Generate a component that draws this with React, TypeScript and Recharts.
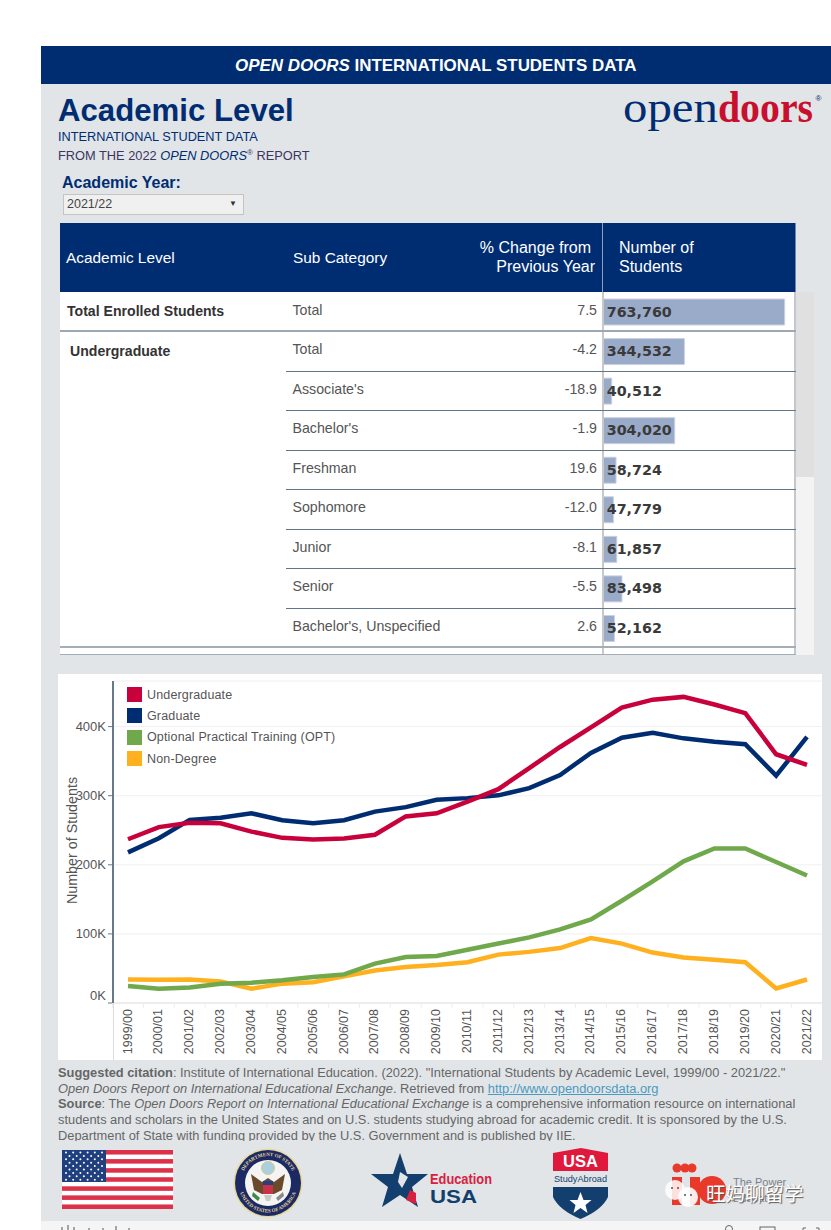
import React from 'react';
import { LineChart, Line, XAxis, YAxis, CartesianGrid, Legend, BarChart, Bar, LabelList } from 'recharts';

const years = ['1999/00', '2000/01', '2001/02', '2002/03', '2003/04', '2004/05', '2005/06', '2006/07', '2007/08', '2008/09', '2009/10', '2010/11', '2011/12', '2012/13', '2013/14', '2014/15', '2015/16', '2016/17', '2017/18', '2018/19', '2019/20', '2020/21', '2021/22'];
const undergraduate = [237000, 254500, 261000, 260000, 248000, 239000, 236500, 238000, 243500, 270000, 274500, 291500, 309500, 340000, 370500, 399000, 427500, 439000, 443000, 432000, 419500, 360000, 344500];
const graduate = [218000, 238500, 265000, 268000, 274500, 264500, 260000, 264500, 277000, 283500, 294000, 296500, 300500, 311000, 330000, 362000, 384000, 391000, 383000, 378000, 374500, 329000, 385000];
const opt = [24500, 20800, 22600, 28000, 29400, 32800, 37500, 41400, 57000, 66500, 68000, 77000, 86000, 95000, 106500, 121000, 148000, 176000, 205000, 223600, 223600, 204000, 184600];
const nonDegree = [34000, 33700, 34000, 31000, 20700, 28000, 30000, 38500, 47000, 52000, 55000, 59000, 70000, 74000, 79500, 94000, 86000, 73000, 66000, 62600, 59000, 21000, 34000];
const yTicks = [0, 100000, 200000, 300000, 400000];

const legendItems = [
  { name: 'Undergraduate', color: '#c8003c' },
  { name: 'Graduate', color: '#002d72' },
  { name: 'Optional Practical Training (OPT)', color: '#70a84c' },
  { name: 'Non-Degree', color: '#ffb01e' },
];

const subCategories = ['Total', "Associate's", "Bachelor's", 'Freshman', 'Sophomore', 'Junior', 'Senior', "Bachelor's, Unspecified"];
const percentChange = ['7.5', '-4.2', '-18.9', '-1.9', '19.6', '-12.0', '-8.1', '-5.5', '2.6'];
const studentCounts = [763760, 344532, 40512, 304020, 58724, 47779, 61857, 83498, 52162];

const lineData = years.map((year, i) => ({
  year,
  undergraduate: undergraduate[i],
  graduate: graduate[i],
  opt: opt[i],
  nonDegree: nonDegree[i],
}));
const barData = studentCounts.map((students, i) => ({ id: String(i), students }));
const rowNames = ['Total', ...subCategories];

const NAVY = '#002d72';
const SANS = '"Liberation Sans", Arial, sans-serif';

const T = ({ x, y, size, color = '#555', bold, italic, right, children, style }: any) => (
  <div
    style={{
      position: 'absolute',
      left: x,
      top: y,
      fontSize: size,
      color,
      fontWeight: bold ? 700 : 400,
      fontStyle: italic ? 'italic' : 'normal',
      whiteSpace: 'nowrap',
      lineHeight: 1.2,
      transform: right ? 'translate(-100%,-50%)' : 'translateY(-50%)',
      ...style,
    }}
  >
    {children}
  </div>
);

const Box = ({ x, y, w, h, bg }: any) => (
  <div style={{ position: 'absolute', left: x, top: y, width: w, height: h, background: bg }} />
);

const YearTick = ({ x, y, payload }: any) => (
  <g>
    <line x1={x - 15.4} x2={x - 15.4} y1={y - 8} y2={y - 3} stroke="#eeeeee" />
    <text
      x={x}
      y={y}
      transform={`rotate(-90 ${x} ${y - 2})`}
      dy={1.5}
      textAnchor="end"
      fontSize={12.5}
      fill="#555"
      fontFamily={SANS}
    >
      {payload.value}
    </text>
  </g>
);

const ValueTick = ({ x, y, payload }: any) => (
  <text x={x} y={payload.value === 0 ? y - 8 : y} dy={4.5} textAnchor="end" fontSize={13} fill="#555" fontFamily={SANS}>
    {payload.value / 1000}K
  </text>
);

const ChartLegend = () => (
  <div>
    {legendItems.map((item) => (
      <div key={item.name} style={{ height: 21.3, display: 'flex', alignItems: 'center' }}>
        <span style={{ width: 15, height: 15, background: item.color, marginRight: 5 }} />
        <span style={{ fontSize: 12.5, color: '#555', fontFamily: SANS, letterSpacing: 0.15 }}>{item.name}</span>
      </div>
    ))}
  </div>
);

const LevelChart = () => (
  <div style={{ position: 'absolute', left: 58, top: 674 }}>
    <LineChart width={764} height={386} data={lineData} margin={{ top: 7, right: 0, bottom: 0, left: 0 }}>
      <CartesianGrid vertical={false} stroke="#f0f0f0" />
      <XAxis
        dataKey="year"
        interval={0}
        height={57}
        padding={{ left: 15, right: 15 }}
        axisLine={{ stroke: '#e4e4e4' }}
        tickLine={false}
        tick={<YearTick />}
      />
      <YAxis
        width={55}
        domain={[0, 466000]}
        ticks={yTicks}
        allowDataOverflow
        axisLine={{ stroke: '#66788a', strokeWidth: 2 }}
        tickLine={{ stroke: '#66788a' }}
        tickSize={5}
        tickMargin={2}
        tick={<ValueTick />}
        label={{ value: 'Number of Students', angle: -90, position: 'center', dx: -13.5, dy: -1.5, fontSize: 14.3, fill: '#555', fontFamily: SANS }}
      />
      <Legend content={<ChartLegend />} layout="vertical" verticalAlign="middle" align="center" wrapperStyle={{ left: 69, top: 10, width: 260 }} />
      <Line dataKey="nonDegree" stroke="#ffb01e" strokeWidth={4.5} dot={false} isAnimationActive={false} legendType="none" />
      <Line dataKey="opt" stroke="#70a84c" strokeWidth={4.5} dot={false} isAnimationActive={false} legendType="none" />
      <Line dataKey="graduate" stroke="#002d72" strokeWidth={4.5} dot={false} isAnimationActive={false} legendType="none" />
      <Line dataKey="undergraduate" stroke="#c8003c" strokeWidth={4.5} dot={false} isAnimationActive={false} legendType="none" />
    </LineChart>
    {/* thin divider running down beside the year labels */}
    <div style={{ position: 'absolute', left: 55, top: 329, width: 1, height: 57, background: '#dddddd' }} />
  </div>
);

const CountLabel = ({ y, height, value }: any) => (
  <text x={4.7} y={y + height / 2} dy={4.5} fontSize={14.3} fontWeight={700} fill="#3a3a3a" fontFamily='"DejaVu Sans", sans-serif'>
    {value.toLocaleString('en-US')}
  </text>
);

const StudentBars = () => (
  <div style={{ position: 'absolute', left: 602, top: 292 }}>
    <BarChart width={194} height={356} layout="vertical" data={barData} margin={{ top: 0, right: 0, bottom: 0, left: 0 }}>
      <XAxis type="number" hide domain={[0, 811000]} />
      <YAxis type="category" dataKey="id" hide width={0} />
      <Bar dataKey="students" fill="#9aabc9" stroke="#c8d2e2" barSize={26} isAnimationActive={false}>
        <LabelList dataKey="students" content={<CountLabel />} />
      </Bar>
    </BarChart>
  </div>
);

const DataTable = () => {
  const rowLines = [370.5, 410, 449.5, 489, 529, 568, 608];
  const rowCenters = [311, 350, 390, 429, 469, 508, 548, 587, 627];
  return (
    <>
      <Box x={60} y={223} w={736} h={69} bg={NAVY} />
      <Box x={602} y={223} w={1} h={69} bg="#8fa0bd" />
      <Box x={795} y={223} w={1} h={69} bg="#6f86ad" />
      <T x={66} y={258} size={15.4} color="#fff">Academic Level</T>
      <T x={293} y={258} size={15.4} color="#fff">Sub Category</T>
      <T x={591} y={248} size={16} color="#fff" right>% Change from</T>
      <T x={595} y={267} size={16} color="#fff" right>Previous Year</T>
      <T x={619} y={248} size={16} color="#fff">Number of</T>
      <T x={619} y={267} size={16} color="#fff">Students</T>

      <Box x={60} y={292} w={736} h={363} bg="#fff" />
      <Box x={796} y={292} w={18} h={185} bg="#e0e0e0" />
      <Box x={796} y={477} w={18} h={178} bg="#f3f3f3" />
      <StudentBars />
      <Box x={602} y={292} w={2} h={363} bg="#c8c8c8" />
      <Box x={794} y={292} w={2} h={363} bg="#c4c8cc" />
      <Box x={60} y={330} w={736} h={2} bg="#9ea8b0" />
      {rowLines.map((y) => (
        <Box key={y} x={286} y={y} w={510} h={1} bg="#62768a" />
      ))}
      <Box x={60} y={646} w={736} h={2} bg="#a4aeb6" />
      <Box x={60} y={654} w={736} h={1} bg="#a4aeb6" />

      <T x={67} y={310.5} size={14.1} color="#333" bold>Total Enrolled Students</T>
      <T x={70} y={350.5} size={14.1} color="#333" bold>Undergraduate</T>
      {rowNames.map((name, i) => (
        <T key={i} x={292.5} y={rowCenters[i] - 0.5} size={14.2} color="#555">{name}</T>
      ))}
      {percentChange.map((value, i) => (
        <T key={i} x={597} y={rowCenters[i] - 0.5} size={14.2} color="#555" right>{value}</T>
      ))}
    </>
  );
};

const Flag = () => {
  const stripes = [0, 2, 4, 6, 8, 10, 12];
  const stars: number[][] = [];
  for (let row = 0; row < 9; row++) {
    const count = row % 2 === 0 ? 6 : 5;
    for (let c = 0; c < count; c++) stars.push([(row % 2 === 0 ? 4 : 7.5) + c * 7.2, 2.5 + row * 3.4]);
  }
  return (
    <svg style={{ position: 'absolute', left: 62, top: 1150 }} width={111} height={59}>
      <rect width={111} height={59} fill="#fff" />
      {stripes.map((s) => (
        <rect key={s} y={(s * 59) / 13} width={111} height={59 / 13} fill="#dc3148" />
      ))}
      <rect width={44} height={32} fill="#1f3f7f" />
      {stars.map(([x, y], i) => (
        <circle key={i} cx={x} cy={y} r={1} fill="#fff" />
      ))}
    </svg>
  );
};

const Seal = () => (
  <svg style={{ position: 'absolute', left: 233, top: 1148 }} width={70} height={70} viewBox="0 0 70 70">
    <circle cx={35} cy={35} r={34.5} fill="#e8d89a" />
    <circle cx={35} cy={35} r={33} fill="#1c2a64" />
    <circle cx={35} cy={35} r={23} fill="#f4f4f2" />
    <defs>
      <path id="sealTop" d="M 8 35 A 27 27 0 0 1 62 35" />
      <path id="sealBottom" d="M 5.5 35 A 29.5 29.5 0 0 0 64.5 35" />
    </defs>
    <text fontSize={5} fontFamily='"Liberation Serif", serif' fill="#e8d89a" fontWeight={700}>
      <textPath href="#sealTop" startOffset="50%" textAnchor="middle">DEPARTMENT OF STATE</textPath>
    </text>
    <text fontSize={5} fontFamily='"Liberation Serif", serif' fill="#e8d89a" fontWeight={700}>
      <textPath href="#sealBottom" startOffset="50%" textAnchor="middle">UNITED STATES OF AMERICA</textPath>
    </text>
    <circle cx={35} cy={20} r={6.5} fill="#a9cfe0" stroke="#d9c98a" />
    <path d="M 18 26 L 29 34 L 35 30 L 41 34 L 52 26 L 49 42 L 41 46 L 29 46 L 21 42 Z" fill="#6b4a2c" />
    <rect x={30} y={33} width={10} height={13} fill="#c8334a" />
    <rect x={30} y={33} width={10} height={4} fill="#27407f" />
    <path d="M 20 44 L 27 50 L 25 53 L 19 48 Z" fill="#3f8a4a" />
    <path d="M 50 44 L 43 50 L 45 53 L 51 48 Z" fill="#8a8a8a" />
    <path d="M 31 47 L 39 47 L 37 53 L 33 53 Z" fill="#c9c9c9" />
  </svg>
);

const EducationUsa = () => (
  <svg style={{ position: 'absolute', left: 370, top: 1150 }} width={130} height={62}>
    <path d="M 30 3 L 37 24 L 58 24 L 42 37 L 48 57 L 30 45 L 12 57 L 18 37 L 1 24 L 23 24 Z" fill="#123f6d" />
    <path d="M 30 22 L 38 27 L 32 38 L 28 32 Z" fill="#e1e5e8" />
    <path d="M 40 40 L 46 43 L 46 54 L 36 50 Z" fill="#d8203f" />
    <text x={60} y={34} fontSize={14} fontWeight={700} fill="#d8203f" fontFamily={SANS} textLength={62} lengthAdjust="spacingAndGlyphs">Education</text>
    <text x={60} y={53} fontSize={18.5} fontWeight={700} fill="#123f6d" fontFamily={SANS} textLength={47} lengthAdjust="spacingAndGlyphs">USA</text>
  </svg>
);

const StudyAbroad = () => (
  <svg style={{ position: 'absolute', left: 552, top: 1147 }} width={58} height={74}>
    <path d="M 1 6 L 29 1 L 56 6 L 56 24 L 1 24 Z" fill="#e0183c" />
    <text x={28.5} y={20} fontSize={16.5} fontWeight={700} fill="#fff" textAnchor="middle" fontFamily={SANS}>USA</text>
    <text x={28.5} y={34.5} fontSize={9.5} fill="#123f6d" textAnchor="middle" fontFamily={SANS} textLength={53} lengthAdjust="spacingAndGlyphs">StudyAbroad</text>
    <path d="M 1 40 L 56 40 L 56 50 Q 50 63 28.5 72 Q 7 63 1 50 Z" fill="#123f6d" />
    <path d="M 28.5 45 L 31.5 53 L 39.5 53 L 33.5 58 L 35.5 66 L 28.5 61 L 21.5 66 L 23.5 58 L 17.5 53 L 25.5 53 Z" fill="#fff" />
  </svg>
);

const IieLogo = () => (
  <svg style={{ position: 'absolute', left: 660, top: 1155 }} width={170} height={60}>
    <circle cx={17} cy={13} r={4.5} fill="#e8392b" />
    <circle cx={25} cy={13} r={4.5} fill="#e8392b" />
    <circle cx={32} cy={13} r={4.5} fill="#e8392b" />
    <rect x={12} y={22} width={10} height={28} fill="#e8392b" />
    <rect x={30} y={22} width={10} height={28} fill="#e8392b" />
    <circle cx={52} cy={35} r={14} fill="#e8392b" />
    <text x={73} y={31} fontSize={11} fill="#7a8288" fontFamily={SANS}>The Power</text>
    <text x={73} y={47} fontSize={11} fill="#7a8288" fontFamily={SANS}>Education</text>
    <circle cx={15} cy={35} r={10} fill="#fff" fillOpacity={0.85} />
    <circle cx={28} cy={42} r={10} fill="#fff" fillOpacity={0.9} />
    <circle cx={12} cy={33} r={1} fill="#555" />
    <circle cx={18} cy={33} r={1} fill="#555" />
    <circle cx={25} cy={40} r={1} fill="#555" />
    <circle cx={31} cy={40} r={1} fill="#555" />
  </svg>
);

const OpenDoorsLogo = () => (
  <svg style={{ position: 'absolute', left: 620, top: 80 }} width={208} height={66}>
    <text x={3} y={42} fontSize={45} fill={NAVY} fontFamily='"Liberation Serif", serif' textLength={95} lengthAdjust="spacingAndGlyphs">open</text>
    <text x={98} y={42} fontSize={45} fontWeight={700} fill="#c8102e" fontFamily='"Liberation Serif", serif' textLength={95} lengthAdjust="spacingAndGlyphs">doors</text>
    <text x={195.5} y={21} fontSize={8} fill={NAVY} fontFamily={SANS}>®</text>
  </svg>
);

const Footer = () => (
  <div
    style={{
      position: 'absolute',
      left: 58,
      top: 1065,
      width: 765,
      height: 76,
      overflow: 'hidden',
      fontSize: 12.85,
      lineHeight: '15.7px',
      color: '#666',
    }}
  >
    <div style={{ whiteSpace: 'nowrap' }}>
      <b>Suggested citation</b>: Institute of International Education. (2022). "International Students by Academic Level, 1999/00 - 2021/22."
    </div>
    <div style={{ whiteSpace: 'nowrap' }}>
      <i>Open Doors Report on International Educational Exchange</i>. Retrieved from{' '}
      <span style={{ color: '#4a9ac0', textDecoration: 'underline' }}>http://www.opendoorsdata.org</span>
    </div>
    <div style={{ whiteSpace: 'nowrap' }}>
      <b>Source</b>: The <i>Open Doors Report on International Educational Exchange</i> is a comprehensive information resource on international
    </div>
    <div style={{ whiteSpace: 'nowrap' }}>
      students and scholars in the United States and on U.S. students studying abroad for academic credit. It is sponsored by the U.S.
    </div>
    <div style={{ whiteSpace: 'nowrap' }}>
      Department of State with funding provided by the U.S. Government and is published by IIE.
    </div>
  </div>
);

const Toolbar = () => (
  <svg style={{ position: 'absolute', left: 41, top: 1221 }} width={790} height={9}>
    <path d="M 21 9 L 21 6 M 27 9 L 27 4 M 33 9 L 33 6 M 48 9 L 48 7 M 62 9 L 62 7 M 75 9 L 75 5 M 88 9 L 88 7" stroke="#555" />
    <circle cx={688} cy={8} r={3.5} fill="none" stroke="#666" />
    <rect x={719} y={6} width={15} height={6} fill="none" stroke="#666" />
    <path d="M 762 9 L 762 7 L 765 7 M 775 7 L 778 7 L 778 9" stroke="#666" fill="none" />
  </svg>
);

export default function App() {
  return (
    <div style={{ position: 'absolute', left: 0, top: 0, width: 831, height: 1230, overflow: 'hidden', background: '#fff', fontFamily: SANS }}>
      <Box x={41} y={84} w={790} h={1137} bg="#e1e5e8" />
      <Box x={41} y={1221} w={790} h={9} bg="#f5f5f5" />
      <Toolbar />
      <Box x={41} y={46} w={790} h={38} bg={NAVY} />
      <T x={235} y={65.5} size={16.95} color="#fff" bold>
        <i>OPEN DOORS</i> INTERNATIONAL STUDENTS DATA
      </T>
      <T x={58} y={111} size={31.2} color={NAVY} bold>Academic Level</T>
      <T x={58} y={137} size={12.75} color={NAVY}>INTERNATIONAL STUDENT DATA</T>
      <T x={58} y={156} size={12.8} color="#3d3560">
        FROM THE 2022 <i style={{ color: NAVY }}>OPEN DOORS</i><sup style={{ fontSize: 8, lineHeight: 0 }}>®</sup> REPORT
      </T>
      <OpenDoorsLogo />
      <T x={62} y={183} size={16} color={NAVY} bold>Academic Year:</T>
      <div style={{ position: 'absolute', left: 63, top: 194, width: 179, height: 19, background: '#f0f0f0', border: '1px solid #c4c4c4' }} />
      <T x={67} y={204} size={12.5} color="#444">2021/22</T>
      <T x={229} y={204} size={8} color="#333">▼</T>

      <DataTable />

      <Box x={58} y={674} w={764} h={386} bg="#fff" />
      <LevelChart />

      <Footer />
      <Flag />
      <Seal />
      <EducationUsa />
      <StudyAbroad />
      <IieLogo />
      <T x={706} y={1193} size={19.5} color="#fff" style={{ fontFamily: '"Noto Sans CJK SC"', textShadow: '1px 1px 1px #555' }}>旺妈聊留学</T>
    </div>
  );
}
